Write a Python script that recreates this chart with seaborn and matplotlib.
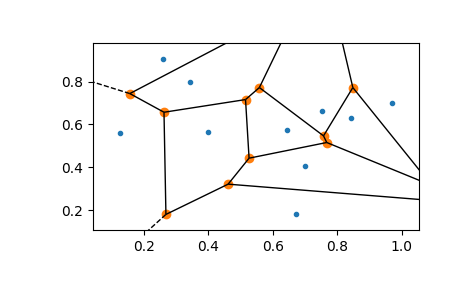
import matplotlib
matplotlib.use("Agg")
import matplotlib.pyplot as plt
import seaborn as sns
import numpy as np
from matplotlib.collections import LineCollection

# input points (blue)
pts_x = [0.259, 0.342, 0.126, 0.398, 0.752, 0.842, 0.969, 0.643, 0.699, 0.671]
pts_y = [0.907, 0.800, 0.558, 0.563, 0.665, 0.628, 0.699, 0.572, 0.405, 0.181]

# Voronoi vertices (orange)
vert_x = [0.156, 0.262, 0.515, 0.558, 0.526, 0.461, 0.268, 0.848, 0.757, 0.767]
vert_y = [0.744, 0.657, 0.716, 0.772, 0.443, 0.322, 0.181, 0.772, 0.547, 0.516]

# vertices lying outside the view (ends of finite ridges)
outer_x = [0.764, 0.694, 0.782, 1.256, 1.337, 1.643]
outer_y = [1.222, 1.194, 1.194, 0.012, 0.166, 0.180]

# far ends of infinite ridges
far_x = [-0.074, 0.168]
far_y = [0.852, 0.045]

# finite ridges between visible vertices
finite_edges = [(0, 1), (1, 2), (2, 3), (1, 6), (2, 4), (4, 5), (5, 6),
                (4, 9), (3, 8), (8, 9), (8, 7)]
# ridges from visible vertex to outer vertex index
outer_edges = [(0, 0), (3, 1), (7, 2), (7, 3), (9, 4), (5, 5)]
# infinite ridges: visible vertex -> far point index
inf_edges = [(0, 0), (6, 1)]

fig = plt.figure(figsize=(4.65, 2.88), dpi=100)
ax = fig.add_axes([93 / 465, 58 / 288, 326 / 465, 187 / 288])

sns.scatterplot(x=pts_x, y=pts_y, color="C0", s=9, edgecolor="C0",
                linewidth=1, ax=ax)
sns.scatterplot(x=vert_x, y=vert_y, color="C1", s=36, edgecolor="C1",
                linewidth=1, ax=ax)

vx, vy = np.array(vert_x), np.array(vert_y)
segs = [[(vx[a], vy[a]), (vx[b], vy[b])] for a, b in finite_edges]
segs += [[(vx[a], vy[a]), (outer_x[b], outer_y[b])] for a, b in outer_edges]
dsegs = [[(vx[a], vy[a]), (far_x[b], far_y[b])] for a, b in inf_edges]

ax.add_collection(LineCollection(segs, colors="k", linewidths=1.0,
                                 linestyle="solid"))
ax.add_collection(LineCollection(dsegs, colors="k", linewidths=1.0,
                                 linestyle="dashed"))

px, py = np.array(pts_x), np.array(pts_y)
mx = 0.1 * np.ptp(px)
my = 0.1 * np.ptp(py)
ax.set_xlim(px.min() - mx, px.max() + mx)
ax.set_ylim(py.min() - my, py.max() + my)
ax.set_xticks([0.2, 0.4, 0.6, 0.8, 1.0])
ax.set_yticks([0.2, 0.4, 0.6, 0.8])

fig.savefig("out.png", dpi=100)
